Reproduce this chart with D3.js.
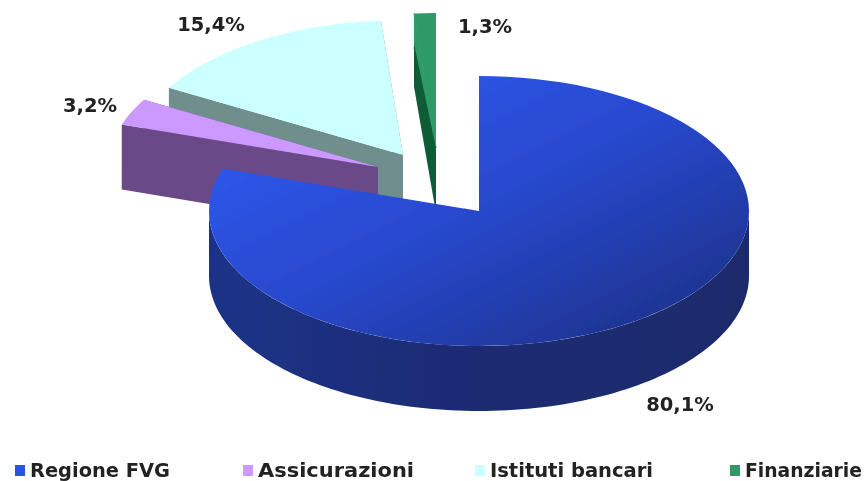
<!DOCTYPE html>
<html><head><meta charset="utf-8">
<script src="https://cdn.jsdelivr.net/npm/d3@7"></script>
<style>html,body{margin:0;padding:0;background:#fff;overflow:hidden}svg{display:block}text{font-family:"DejaVu Sans",sans-serif;font-weight:bold;fill:#222}</style>
</head><body><svg id="c" width="866" height="481"></svg>
<script>
const categories=["Regione FVG","Assicurazioni","Istituti bancari","Finanziarie"];
const values=[80.1,3.2,15.4,1.3];
const topColors=["#2a52e0","#cc99ff","#ccffff","#2f9a68"];
const sideColors=["#1c2f7c","#6b4a88","#6f8f8c","#0a5c34"];
const apexes=[[479,211],[378,167],[403,155],[436,148]];
const labelAnchors=[[680,404],[90,105],[211,24],[485,26]];
const legendX=[15,243,475,730];
const legendTextX=[30,258,490,745];
const legendTextW=[140,156,163,117];
const W=866,H=481,rx=270,ry=135,depth=65;
const svg=d3.select("#c");
const defs=svg.append("defs");
const blur=defs.append("filter").attr("id","soft").attr("x","-5%").attr("y","-5%").attr("width","110%").attr("height","110%");
blur.append("feGaussianBlur").attr("stdDeviation",0.6);
const g1=defs.append("linearGradient").attr("id","topBlue").attr("x1",0.05).attr("y1",0.1).attr("x2",0.9).attr("y2",0.95);
g1.append("stop").attr("offset",0).attr("stop-color","#2e5af2");
g1.append("stop").attr("offset",0.5).attr("stop-color","#2848cc");
g1.append("stop").attr("offset",1).attr("stop-color","#1c318a");
const g2=defs.append("linearGradient").attr("id","wallBlue").attr("gradientUnits","userSpaceOnUse").attr("x1",209).attr("y1",0).attr("x2",749).attr("y2",0);
g2.append("stop").attr("offset",0).attr("stop-color","#1c3288");
g2.append("stop").attr("offset",0.5).attr("stop-color","#1a2b72");
g2.append("stop").attr("offset",1).attr("stop-color","#1a2a6c");

const pie=d3.pie().sort(null).startAngle(0).endAngle(2*Math.PI);
const arcs=pie(values);
const arc=d3.arc().innerRadius(0).outerRadius(rx);
const px=(i,a)=>apexes[i][0]+rx*Math.sin(a);
const py=(i,a)=>apexes[i][1]-ry*Math.cos(a);
const line=d3.line();
const scene=svg.append("g").attr("filter","url(#soft)");
const order=[3,2,1,0];
order.forEach(i=>{
  const d=arcs[i],[ax,ay]=apexes[i];
  const side=i===0?"url(#wallBlue)":sideColors[i];
  if(i!==0){
    const lift=i===3?30:0;
    if(i===3){
      scene.append("path").attr("fill",topColors[i]).attr("stroke",topColors[i]).attr("d",line([
        [px(i,d.startAngle),py(i,d.startAngle)],[ax,ay],[px(i,d.startAngle),py(i,d.startAngle)+lift+4]]));
    }
    scene.append("path").attr("fill",side).attr("d",line([
      [px(i,d.startAngle),py(i,d.startAngle)+lift],[ax,ay],[ax,ay+depth],[px(i,d.startAngle),py(i,d.startAngle)+depth+8*(i===3)]]));
    if(i!==3) scene.append("path").attr("fill",side).attr("d",line([
      [px(i,d.endAngle),py(i,d.endAngle)],[ax,ay],[ax,ay+depth],[px(i,d.endAngle),py(i,d.endAngle)+depth]]));
  }else{
    const a0=Math.max(d.startAngle,Math.PI/2),a1=Math.min(d.endAngle,3*Math.PI/2);
    const n=d3.range(0,121).map(k=>a0+(a1-a0)*k/120);
    const pts=n.map(a=>[px(i,a),py(i,a)]).concat(n.slice().reverse().map(a=>[px(i,a),py(i,a)+depth]));
    scene.append("path").attr("fill",side).attr("d",line(pts)+"Z");
  }
  scene.append("path").attr("fill",i===0?"url(#topBlue)":topColors[i])
    .attr("transform",`translate(${ax},${ay}) scale(1,${ry/rx})`)
    .attr("d",arc(d));
});
const fmt=v=>v.toFixed(1).replace(".",",")+"%";
const txt=svg.append("g").attr("filter","url(#soft)");
values.forEach((v,i)=>{
  txt.append("text").attr("x",labelAnchors[i][0]).attr("y",labelAnchors[i][1]).attr("dy","0.36em")
    .attr("text-anchor","middle").attr("font-size",19.5).text(fmt(v));
});
categories.forEach((c,i)=>{
  txt.append("rect").attr("x",legendX[i]).attr("y",465).attr("width",10).attr("height",11).attr("fill",topColors[i]);
  txt.append("text").attr("x",legendTextX[i]).attr("y",470).attr("dy","0.36em").attr("font-size",19)
    .attr("textLength",legendTextW[i]).attr("lengthAdjust","spacingAndGlyphs").text(c);
});
</script></body></html>
